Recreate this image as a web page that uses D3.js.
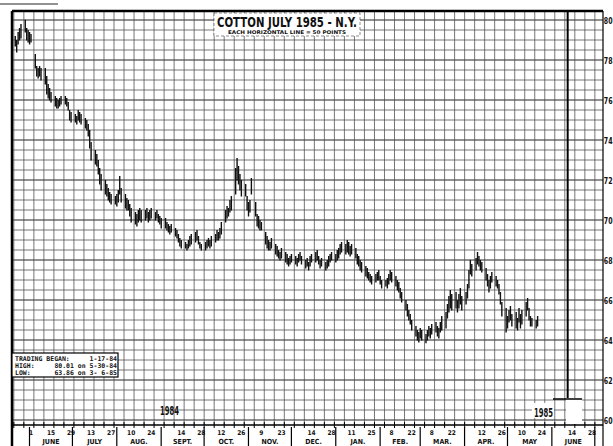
<!DOCTYPE html>
<html lang="en">
<head>
<meta charset="UTF-8">
<title>Cotton July 1985 - N.Y.</title>
<style>
  body { margin: 0; background: #fff; }
  svg { display: block; }
  .grid line { stroke: #4a4a4a; stroke-width: 0.75; }
  .grid line.major { stroke: #222; stroke-width: 1.1; }
  .bars line { stroke: #111; stroke-width: 1.4; }
  text { font-family: "DejaVu Sans Condensed", "DejaVu Sans", sans-serif; font-weight: bold; fill: #111; }
  .mono { font-family: "DejaVu Sans Mono", monospace; }
</style>
<script src="https://d3js.org/d3.v7.min.js"></script>
</head>
<body>
<script>
// daily bars, one value per weekday starting Monday 1984-05-21
const firstDay = "1984-05-21";
const highs = [
  79.2, 79.0, 79.4, 79.6, 79.8,   80.01, 79.6, 79.5, 79.4, 79.3,
  78.3, 77.7, 77.6, 77.7, 77.6,   77.6, 77.2, 76.8, 76.6, 76.4,
  76.2, 76.1, 76.0, 76.1, 76.2,   76.2, 76.1, 75.9, 75.5, 75.4,
  75.3, 75.2, 75.5, 75.4, 75.3,   75.1, 75.0, 74.8, 74.5, 73.9,
  73.5, 73.3, 73.0, 72.6, 72.3,   72.0, 71.8, 71.6, 71.4, 71.3,
  71.2, 71.3, 71.5, 72.2, 71.6,   71.3, 71.1, 71.0, 70.8, 70.6,
  70.4, 70.3, 70.5, 70.6, 70.5,   70.5, 70.6, 70.4, 70.5, 70.6,
  70.4, 70.5, 70.3, 70.2, 70.1,   70.1, 69.9, 69.8, 69.7, 69.8,
  69.6, 69.5, 69.3, 69.1, 69.0,   68.9, 68.8, 69.0, 69.2, 69.3,
  69.4, 69.5, 69.2, 68.9, 68.8,   68.9, 69.0, 69.1, 69.0, 69.2,
  69.3, 69.5, 69.4, 69.6, 69.9,   70.5, 70.7, 70.6, 71.0, 71.2,
  72.6, 73.1, 72.7, 72.3, 72.0,   71.8, 71.2, 70.9, 71.0, 72.1,
  70.9, 70.3, 70.2, 70.0, 69.9,   69.4, 69.2, 69.0, 68.9, 69.1,
  68.8, 68.7, 68.5, 68.4, 68.6,   68.4, 68.3, 68.1, 68.2, 68.3,
  68.2, 68.1, 68.3, 68.4, 68.2,   68.0, 68.1, 67.9, 68.2, 68.3,
  68.4, 68.5, 68.2, 68.0, 68.1,   67.9, 68.0, 68.2, 68.3, 68.4,
  68.3, 68.5, 68.6, 68.8, 68.9,   68.8, 69.0, 68.9, 68.7, 68.8,
  68.6, 68.3, 68.2, 68.0, 67.9,   67.7, 67.6, 67.4, 67.3, 67.2,
  67.3, 67.4, 67.5, 67.2, 67.0,   67.0, 67.1, 67.3, 67.5, 67.4,
  67.2, 67.0, 66.9, 66.6, 66.4,   66.0, 65.8, 65.5, 65.3, 65.0,
  64.7, 64.5, 64.4, 64.6, 64.5,   64.3, 64.5, 64.7, 64.6, 64.8,
  64.9, 64.7, 64.6, 64.9, 65.2,   65.4, 65.8, 66.2, 66.5, 66.3,
  66.4, 66.0, 66.3, 66.6, 66.2,   66.4, 66.8, 67.5, 68.0, 67.8,
  68.1, 68.4, 68.2, 68.0, 67.9,   67.6, 67.3, 67.0, 67.2, 67.4,
  67.2, 67.0, 66.8, 66.4, 65.9,   65.6, 65.2, 65.5, 65.7, 65.3,
  65.4, 65.1, 65.6, 65.3, 65.5,   65.9, 66.1, 65.6, 65.2, 65.1,
  65.0, 65.2
];
const lows = [
  78.7, 78.4, 78.8, 79.0, 79.1,   79.4, 79.0, 78.9, 78.8, 78.9,
  77.6, 77.2, 77.1, 77.2, 77.0,   76.8, 76.3, 76.1, 76.0, 75.9,
  75.7, 75.6, 75.6, 75.7, 75.8,   75.8, 75.7, 75.5, 75.0, 74.9,
  74.9, 74.8, 75.0, 74.9, 74.8,   74.6, 74.5, 74.2, 73.6, 73.0,
  72.8, 72.7, 72.3, 71.8, 71.5,   71.3, 71.2, 71.0, 70.9, 70.8,
  70.8, 70.7, 70.9, 71.3, 70.9,   70.6, 70.5, 70.5, 70.2, 69.9,
  69.8, 69.7, 69.9, 70.0, 69.9,   70.0, 70.1, 69.9, 70.0, 70.1,
  70.0, 70.1, 69.9, 69.8, 69.6,   69.6, 69.5, 69.4, 69.3, 69.4,
  69.2, 69.1, 68.9, 68.7, 68.6,   68.6, 68.5, 68.6, 68.7, 68.8,
  68.9, 69.0, 68.8, 68.6, 68.5,   68.5, 68.6, 68.7, 68.6, 68.7,
  68.9, 69.0, 69.0, 69.1, 69.3,   69.9, 70.1, 70.2, 70.4, 70.5,
  71.3, 72.0, 71.8, 71.5, 71.2,   71.2, 70.5, 70.2, 70.4, 71.3,
  70.2, 69.7, 69.6, 69.5, 69.5,   68.8, 68.6, 68.5, 68.5, 68.6,
  68.3, 68.2, 68.1, 68.0, 68.1,   67.9, 67.8, 67.7, 67.8, 67.9,
  67.8, 67.7, 67.9, 68.0, 67.8,   67.6, 67.7, 67.5, 67.7, 67.9,
  67.9, 68.0, 67.8, 67.6, 67.7,   67.5, 67.6, 67.7, 67.9, 68.0,
  67.9, 68.0, 68.1, 68.3, 68.4,   68.3, 68.4, 68.3, 68.2, 68.3,
  68.1, 67.8, 67.7, 67.5, 67.4,   67.2, 67.1, 67.0, 66.9, 66.8,
  66.9, 67.0, 67.0, 66.8, 66.6,   66.7, 66.6, 66.8, 67.0, 66.9,
  66.7, 66.5, 66.4, 66.1, 65.9,   65.5, 65.2, 65.0, 64.8, 64.5,
  64.2, 64.0, 63.9, 64.1, 64.0,   63.86, 64.0, 64.2, 64.1, 64.3,
  64.4, 64.2, 64.1, 64.4, 64.5,   64.6, 65.1, 65.4, 65.6, 65.5,
  65.6, 65.4, 65.6, 65.8, 65.5,   65.8, 66.1, 66.6, 67.3, 67.2,
  67.5, 67.8, 67.7, 67.5, 67.4,   67.0, 66.7, 66.4, 66.6, 66.9,
  66.7, 66.6, 66.3, 65.8, 65.2,   64.4, 64.6, 64.9, 65.0, 64.7,
  64.6, 64.5, 64.9, 64.6, 64.8,   65.2, 65.5, 65.0, 64.7, 64.7,
  64.6, 64.7
];

const tickDates = [
  "1984-06-01", "1984-06-15", "1984-06-29", "1984-07-13", "1984-07-27",
  "1984-08-10", "1984-08-24", "1984-09-14", "1984-09-28", "1984-10-12",
  "1984-10-26", "1984-11-09", "1984-11-23", "1984-12-14", "1984-12-28",
  "1985-01-11", "1985-01-25", "1985-02-08", "1985-02-22", "1985-03-08",
  "1985-03-22", "1985-04-12", "1985-04-26", "1985-05-10", "1985-05-24",
  "1985-06-14", "1985-06-28"
];
const monthNames = ["JUNE", "JULY", "AUG.", "SEPT.", "OCT.", "NOV.", "DEC.",
                    "JAN.", "FEB.", "MAR.", "APR.", "MAY", "JUNE"];
const priceLabels = [60, 62, 64, 66, 68, 70, 72, 74, 76, 78, 80];
const infoRows = [
  ["TRADING BEGAN:", "1-17-84"],
  ["HIGH:", "80.01 on 5-30-84"],
  ["LOW:", "63.86 on 3- 6-85"]
];

const W = 613, H = 446;
const parse = d3.timeParse("%Y-%m-%d");

const svg = d3.select("body").append("svg")
  .attr("width", W).attr("height", H);

const x = d3.scaleTime()
  .domain([parse("1984-06-01"), parse("1985-06-28")])
  .range([31, 592]);
const y = d3.scaleLinear().domain([60, 80]).range([420, 20]);

const plotLeft = 12, plotRight = 603, plotTop = 11, axisY = 425;

// grid
const grid = svg.append("g").attr("class", "grid");
grid.selectAll("line.h")
  .data(d3.range(60, 80.01, 0.5))
  .join("line")
  .attr("class", d => d % 2 === 0 ? "h major" : "h")
  .attr("x1", plotLeft).attr("x2", plotRight)
  .attr("y1", d => y(d)).attr("y2", d => y(d));

const weeks = d3.timeSunday.range(x.invert(plotLeft), x.invert(plotRight));
grid.selectAll("line.v")
  .data(weeks)
  .join("line")
  .attr("class", "v")
  .attr("x1", d => x(d)).attr("x2", d => x(d))
  .attr("y1", plotTop).attr("y2", axisY);

// frame
svg.append("line").attr("x1", 0).attr("x2", 58).attr("y1", 4).attr("y2", 4)
  .attr("stroke", "#222").attr("stroke-width", 1);
svg.append("line").attr("x1", plotLeft).attr("x2", plotRight).attr("y1", plotTop).attr("y2", plotTop)
  .attr("stroke", "#000").attr("stroke-width", 2.5);
svg.append("line").attr("x1", plotLeft).attr("x2", plotLeft).attr("y1", plotTop).attr("y2", H)
  .attr("stroke", "#000").attr("stroke-width", 2.5);
svg.append("line").attr("x1", plotRight).attr("x2", plotRight).attr("y1", plotTop).attr("y2", H)
  .attr("stroke", "#000").attr("stroke-width", 1.2);
svg.append("line")
  .attr("x1", x(parse("1985-06-11"))).attr("x2", x(parse("1985-06-11")))
  .attr("y1", plotTop).attr("y2", 398)
  .attr("stroke", "#000").attr("stroke-width", 2);

// bottom axis
const axis = svg.append("g");
axis.append("line").attr("x1", plotLeft).attr("x2", plotRight)
  .attr("y1", axisY).attr("y2", axisY)
  .attr("stroke", "#000").attr("stroke-width", 1.5);
axis.selectAll("line.tick")
  .data(weeks)
  .join("line")
  .attr("class", "tick")
  .attr("x1", d => x(d)).attr("x2", d => x(d))
  .attr("y1", axisY - 3).attr("y2", axisY + 3)
  .attr("stroke", "#000").attr("stroke-width", 1);
axis.selectAll("text.day")
  .data(tickDates.map(parse))
  .join("text")
  .attr("class", "day")
  .attr("x", d => x(d)).attr("y", 435)
  .attr("text-anchor", "middle")
  .attr("font-size", 6.5)
  .text(d => d.getDate());

const months = d3.timeMonth.range(parse("1984-06-01"), parse("1985-07-01"));
axis.selectAll("line.month")
  .data(months.concat([parse("1985-07-01")]))
  .join("line")
  .attr("class", "month")
  .attr("x1", d => x(d) - 1.5).attr("x2", d => x(d) - 1.5)
  .attr("y1", axisY + 2).attr("y2", H)
  .attr("stroke", "#000").attr("stroke-width", 1.2);
axis.selectAll("text.month")
  .data(months)
  .join("text")
  .attr("class", "month")
  .attr("x", d => (x(d) + x(d3.timeMonth.offset(d, 1))) / 2 - 1.5)
  .attr("y", 444)
  .attr("text-anchor", "middle")
  .attr("font-size", 7)
  .text((d, i) => monthNames[i]);

// right price labels: narrow, stretched tall so they fit in the margin
svg.append("g").selectAll("text")
  .data(priceLabels)
  .join("text")
  .attr("transform", d => `translate(${plotRight + 0.8},${y(d) + 3.8}) scale(1,1.35)`)
  .attr("font-size", 7)
  .text(d => d);

// blank extension box
svg.append("rect").attr("x", 566).attr("y", 398).attr("width", 16).attr("height", 26)
  .attr("fill", "#fff");
svg.append("line").attr("x1", 553).attr("x2", 582).attr("y1", 399).attr("y2", 399)
  .attr("stroke", "#000").attr("stroke-width", 1.5);

// price bars
const days = [];
for (let d = parse(firstDay); days.length < highs.length; d = d3.timeDay.offset(d, 1)) {
  if (d.getDay() !== 0 && d.getDay() !== 6) days.push(d);
}
svg.append("g").attr("class", "bars")
  .selectAll("line")
  .data(days)
  .join("line")
  .attr("x1", d => x(d)).attr("x2", d => x(d))
  .attr("y1", (d, i) => y(highs[i]))
  .attr("y2", (d, i) => y(lows[i]) + 0.5);

// title
svg.append("rect").attr("x", 214).attr("y", 13).attr("width", 146).attr("height", 23)
  .attr("fill", "#fff").attr("stroke", "#444").attr("stroke-width", 0.6)
  .attr("stroke-dasharray", "3,2");
svg.append("text").attr("x", 287).attr("y", 26.5)
  .attr("text-anchor", "middle").attr("font-size", 14)
  .attr("textLength", 140).attr("lengthAdjust", "spacingAndGlyphs")
  .text("COTTON  JULY 1985 - N.Y.");
svg.append("text").attr("x", 287).attr("y", 34)
  .attr("text-anchor", "middle").attr("font-size", 5)
  .attr("textLength", 118).attr("lengthAdjust", "spacingAndGlyphs")
  .text("EACH HORIZONTAL LINE = 50 POINTS");

// year labels
svg.append("text").attr("x", 160).attr("y", 415).attr("font-size", 12)
  .attr("textLength", 19).attr("lengthAdjust", "spacingAndGlyphs").text("1984");
svg.append("rect").attr("x", 532).attr("y", 403).attr("width", 22).attr("height", 15)
  .attr("fill", "#fff");
svg.append("text").attr("x", 534).attr("y", 417).attr("font-size", 12)
  .attr("textLength", 19).attr("lengthAdjust", "spacingAndGlyphs").text("1985");

// info box
const info = svg.append("g");
info.append("rect").attr("x", plotLeft).attr("y", 353).attr("width", 106).attr("height", 24)
  .attr("fill", "#fff").attr("stroke", "#000").attr("stroke-width", 1.2);
info.selectAll("text.k")
  .data(infoRows)
  .join("text")
  .attr("class", "k mono")
  .attr("x", 15).attr("y", (d, i) => 361 + i * 6.8)
  .attr("font-size", 6.5)
  .text(d => d[0]);
info.selectAll("text.v")
  .data(infoRows)
  .join("text")
  .attr("class", "v mono")
  .attr("x", 117).attr("y", (d, i) => 361 + i * 6.8)
  .attr("text-anchor", "end")
  .attr("font-size", 6.5)
  .text(d => d[1]);
</script>
</body>
</html>
